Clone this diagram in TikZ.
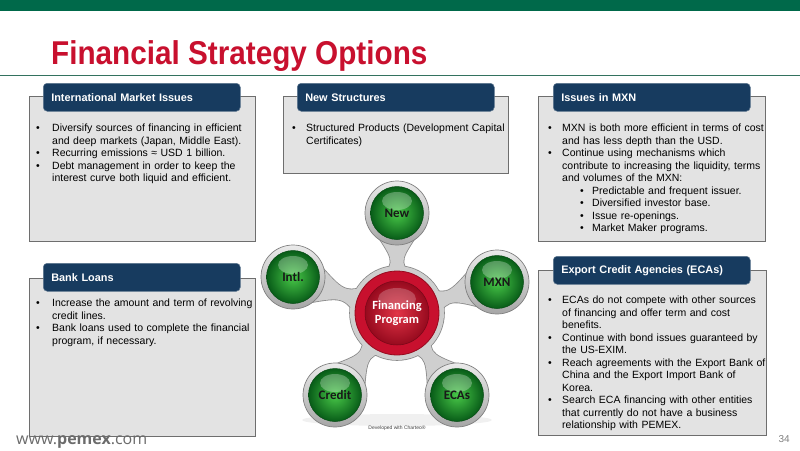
\documentclass[tikz,border=0pt]{standalone}
\usepackage{fontspec}
\setmainfont{Liberation Sans}
\newfontfamily\carl{Carlito}
\newfontfamily\opens{Open Sans}
\usepackage{enumitem}
\usetikzlibrary{calc}
\definecolor{pgreen}{HTML}{00694A}
\definecolor{pred}{HTML}{C8102E}
\definecolor{navy}{HTML}{173B5F}
\definecolor{boxgray}{HTML}{E3E3E3}
\definecolor{boxline}{HTML}{6E6E6E}
\definecolor{armlight}{HTML}{CFCFCF}
\definecolor{armdark}{HTML}{8A8A8A}
\definecolor{gin}{RGB}{72,200,72}
\definecolor{gout}{RGB}{8,92,24}
\definecolor{rin}{RGB}{226,52,70}
\definecolor{rout}{RGB}{150,10,30}
\pgfdeclarelayer{bg}
\pgfdeclarelayer{arms}
\pgfsetlayers{bg,arms,main}
\tikzset{
  graybox/.style={fill=boxgray, draw=boxline, line width=0.8, anchor=north west, inner sep=0},
  hdr/.style={fill=navy, draw=navy!70!white, line width=0.5, rounded corners=4, anchor=north west,
    minimum width=197, minimum height=28, text width=181, inner xsep=8, inner ysep=0, align=left,
    text=white, font=\bfseries\fontsize{10.9}{12}\selectfont},
  body/.style={anchor=north west, inner sep=0, text width=240, font=\fontsize{10.5}{12.5}\selectfont},
  rim/.style={circle, minimum size=64, inner sep=0, draw=black!50, line width=0.7, top color=black!8, bottom color=black!35},
  gloss/.style={path picture={\fill[white, opacity=0.28] ($(path picture bounding box.center)+(0,12)$) ellipse (15 and 9);}},
  gball/.style={circle, minimum size=53, inner sep=0, inner color=gin, outer color=gout, draw=gout!80!black, line width=0.5, gloss,
    font=\carl\bfseries\fontsize{13}{13}\selectfont, text=black!90},
  armfill/.style={fill=armlight},
  armedge/.style={fill=armlight, draw=armdark, line width=1.6},
}
\newcommand{\blist}[2]{\begin{itemize}[label=\textbullet, leftmargin=#1, labelwidth=4pt, labelsep=#2, align=left, nosep, topsep=0pt]}
\newcommand{\armpath}[1]{($(fp)!36pt!40:(#1)$) .. controls ($(fp)!0.5!(#1)!1.5pt!90:(#1)$) .. ($(#1)!30pt!-40:(fp)$) -- ($(#1)!30pt!40:(fp)$) .. controls ($(fp)!0.5!(#1)!1.5pt!-90:(#1)$) .. ($(fp)!36pt!-40:(#1)$) -- cycle}
\begin{document}
\begin{tikzpicture}[x=1pt,y=1pt]
\useasboundingbox (0,0) rectangle (800,-450);
\begin{pgfonlayer}{bg}
\fill[white] (0,0) rectangle (800,-450);
\end{pgfonlayer}
\fill[pgreen] (0,0) rectangle (800,-11);
\draw[pgreen!60!gray, line width=1] (0,-75) -- (800,-75);
\node[anchor=base west, inner sep=0, text=pred, xscale=0.9, font=\bfseries\fontsize{33}{33}\selectfont] (title) at (51,-64) {Financial Strategy Options};

% boxes
\node[graybox, minimum width=226, minimum height=145] (b1) at (29,-96) {};
\node[graybox, minimum width=225, minimum height=77] (b2) at (283,-96) {};
\node[graybox, minimum width=227, minimum height=145] (b3) at (538,-96) {};
\node[graybox, minimum width=226, minimum height=158] (b4) at (29,-278) {};
\node[graybox, minimum width=228, minimum height=165] (b5) at (538,-270) {};

\node[hdr] (h1) at (43,-83) {International Market Issues};
\node[hdr] (h2) at (297,-83) {New Structures};
\node[hdr] (h3) at (553,-83) {Issues in MXN};
\node[hdr] (h4) at (43,-263) {Bank Loans};
\node[hdr] (h5) at (553,-256) {Export Credit Agencies (ECAs)};

\node[body] (t1) at (36,-119) {\blist{16pt}{12pt}
\item Diversify sources of financing in efficient\\ and deep markets (Japan, Middle East).
\item Recurring emissions ≈ USD 1 billion.
\item Debt management in order to keep the\\ interest curve both liquid and efficient.
\end{itemize}};

\node[body] (t2) at (292,-119) {\blist{14pt}{10pt}
\item Structured Products (Development Capital\\ Certificates)
\end{itemize}};

\node[body] (t3) at (548,-119) {\blist{14pt}{10pt}
\item MXN is both more efficient in terms of cost\\ and has less depth than the USD.
\item Continue using mechanisms which\\ contribute to increasing the liquidity, terms\\ and volumes of the MXN:
\begin{itemize}[label=\textbullet, leftmargin=30pt, labelwidth=4pt, labelsep=8pt, align=left, nosep, topsep=0pt]
\item Predictable and frequent issuer.
\item Diversified investor base.
\item Issue re-openings.
\item Market Maker programs.
\end{itemize}
\end{itemize}};

\node[body] (t4) at (36,-294) {\blist{16pt}{12pt}
\item Increase the amount and term of revolving\\ credit lines.
\item Bank loans used to complete the financial\\ program, if necessary.
\end{itemize}};

\node[body] (t5) at (548,-291) {\blist{14pt}{10pt}
\item ECAs do not compete with other sources\\ of financing and offer term and cost\\ benefits.
\item Continue with bond issues guaranteed by\\ the US-EXIM.
\item Reach agreements with the Export Bank of\\ China and the Export Import Bank of\\ Korea.
\item Search ECA financing with other entities\\ that currently do not have a business\\ relationship with PEMEX.
\end{itemize}};

% central diagram
\node[circle, minimum size=84, inner sep=0, draw=rout, line width=0.8, fill=pred] (fpring) at (397,-313) {};
\node[circle, minimum size=64, inner sep=0, inner color=rin, outer color=rout, draw=rout!80!black, line width=0.5,
  path picture={\fill[white, opacity=0.22] ($(path picture bounding box.center)+(0,14)$) ellipse (19 and 11);},
  text=white, align=center, font=\carl\bfseries\fontsize{12.5}{14.5}\selectfont] (fp) at (397,-313) {Financing\\Program};

\node[rim] (rnew) at (397,-213) {};
\node[rim] (rintl) at (293,-277) {};
\node[rim] (rmxn) at (497,-282) {};
\node[rim] (rcredit) at (335,-395) {};
\node[rim] (recas) at (457,-395) {};
\node[gball] (new) at (rnew) {New};
\node[gball] (intl) at (rintl) {Intl.};
\node[gball] (mxn) at (rmxn) {MXN};
\node[gball] (credit) at (rcredit) {Credit};
\node[gball] (ecas) at (recas) {ECAs};

\begin{pgfonlayer}{arms}
\fill[black, opacity=0.06] (397,-420) ellipse (95 and 6);
\draw[armedge] (fp) circle (47);
\foreach \s in {new,intl,mxn,credit,ecas}{\draw[armedge] \armpath{\s};}
\fill[armfill] (fp) circle (47);
\foreach \s in {new,intl,mxn,credit,ecas}{\fill[armfill] \armpath{\s};}
\end{pgfonlayer}

\node[inner sep=0, text=black!75, font=\fontsize{5}{5}\selectfont] (dev) at (397,-428) {Developed with Charteo®};

\node[anchor=base west, inner sep=0, text=black!58, font=\opens\fontsize{16}{16}\selectfont] (web) at (16,-444) {www.{\bfseries pemex}.com};
\node[anchor=base east, inner sep=0, text=black!50, font=\fontsize{10}{10}\selectfont] (pg) at (790,-442) {34};
\end{tikzpicture}
\end{document}
